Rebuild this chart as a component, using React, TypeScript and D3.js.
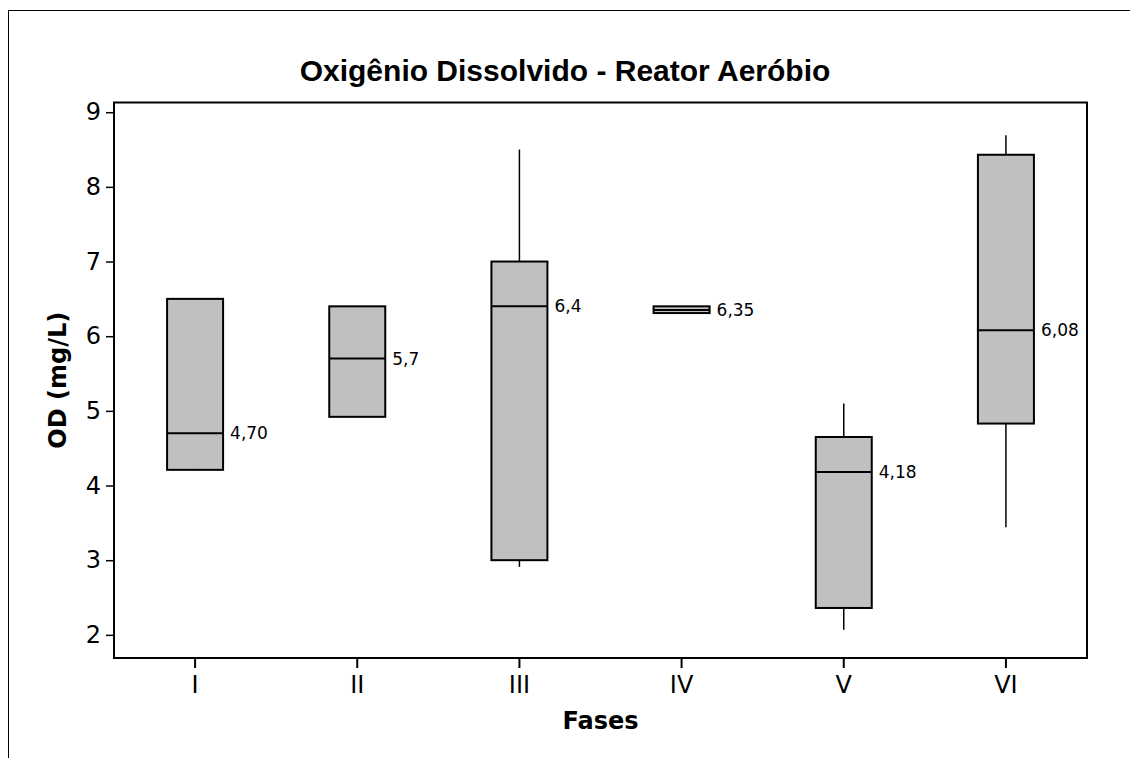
import {useEffect, useRef} from "react"

import * as d3 from "d3"

// fases e valores (mg/L)
const phases = ["I", "II", "III", "IV", "V", "VI"]
const minVals = [4.2, 4.92, 2.91, 6.31, 2.07, 3.44]
const q1Vals = [4.21, 4.92, 3.0, 6.31, 2.36, 4.83]
const medians = [4.7, 5.7, 6.4, 6.35, 4.18, 6.08]
const q3Vals = [6.5, 6.4, 7.0, 6.4, 4.65, 8.43]
const maxVals = [6.5, 6.4, 8.5, 6.4, 5.1, 8.69]
const medianLabels = ["4,70", "5,7", "6,4", "6,35", "4,18", "6,08"]
const yTicks = [2, 3, 4, 5, 6, 7, 8, 9]

const W = 1130
const H = 758
const plot = {left: 114, top: 102.5, right: 1087, bottom: 658}
const labelFont = "DejaVu Sans, Verdana, sans-serif"
const titleFont = "Liberation Sans, Arial, sans-serif"

const App = (): JSX.Element => {
  const ref = useRef<SVGSVGElement>(null)

  useEffect(() => {
    if (!ref.current) return
    const svg = d3.select(ref.current)
    svg.selectAll("*").remove()

    // moldura externa (cortada à direita e embaixo)
    svg
      .append("rect")
      .attr("x", 8.5)
      .attr("y", 10.5)
      .attr("width", 1300)
      .attr("height", 900)
      .attr("fill", "white")
      .attr("stroke", "black")
      .attr("stroke-width", 1)

    const x = d3.scaleBand().domain(phases).range([plot.left, plot.right])
    const y = d3.scaleLinear().domain([1.69, 9.13]).range([plot.bottom, plot.top])
    const boxW = 56

    svg
      .append("text")
      .attr("x", 565)
      .attr("y", 81)
      .attr("text-anchor", "middle")
      .attr("font-family", titleFont)
      .attr("font-weight", "bold")
      .attr("font-size", 30)
      .text("Oxigênio Dissolvido - Reator Aeróbio")

    const yAxis = svg
      .append("g")
      .attr("transform", `translate(${plot.left},0)`)
      .call(d3.axisLeft(y).tickValues(yTicks).tickSize(8).tickPadding(5))
    yAxis.select(".domain").remove()
    yAxis.selectAll("line").attr("stroke-width", 1.5)
    yAxis
      .selectAll("text")
      .attr("font-family", labelFont)
      .attr("font-size", 24)
      .attr("fill", "black")

    const xAxis = svg
      .append("g")
      .attr("transform", `translate(0,${plot.bottom})`)
      .call(d3.axisBottom(x).tickSize(10).tickPadding(8))
    xAxis.select(".domain").remove()
    xAxis.selectAll("line").attr("stroke-width", 2)
    xAxis
      .selectAll("text")
      .attr("font-family", labelFont)
      .attr("font-size", 24)
      .attr("fill", "black")

    svg
      .append("rect")
      .attr("x", plot.left)
      .attr("y", plot.top)
      .attr("width", plot.right - plot.left)
      .attr("height", plot.bottom - plot.top)
      .attr("fill", "none")
      .attr("stroke", "black")
      .attr("stroke-width", 2)

    const boxes = svg
      .append("g")
      .selectAll("g")
      .data(phases)
      .join("g")
      .attr("transform", (d) => `translate(${(x(d) ?? 0) + x.bandwidth() / 2},0)`)

    boxes
      .append("line")
      .attr("stroke", "black")
      .attr("stroke-width", 1.5)
      .attr("y1", (_, i) => y(maxVals[i]))
      .attr("y2", (_, i) => y(q3Vals[i]))
    boxes
      .append("line")
      .attr("stroke", "black")
      .attr("stroke-width", 1.5)
      .attr("y1", (_, i) => y(q1Vals[i]))
      .attr("y2", (_, i) => y(minVals[i]))

    boxes
      .append("rect")
      .attr("x", -boxW / 2)
      .attr("width", boxW)
      .attr("y", (_, i) => y(q3Vals[i]))
      .attr("height", (_, i) => y(q1Vals[i]) - y(q3Vals[i]))
      .attr("fill", "#c0c0c0")
      .attr("stroke", "black")
      .attr("stroke-width", 2)

    boxes
      .append("line")
      .attr("stroke", "black")
      .attr("stroke-width", 2)
      .attr("x1", -boxW / 2)
      .attr("x2", boxW / 2)
      .attr("y1", (_, i) => y(medians[i]))
      .attr("y2", (_, i) => y(medians[i]))

    boxes
      .append("text")
      .attr("x", boxW / 2 + 7)
      .attr("y", (_, i) => y(medians[i]))
      .attr("dy", "0.35em")
      .attr("font-family", labelFont)
      .attr("font-size", 17)
      .text((_, i) => medianLabels[i])

    svg
      .append("text")
      .attr("x", (plot.left + plot.right) / 2)
      .attr("y", 729)
      .attr("text-anchor", "middle")
      .attr("font-family", labelFont)
      .attr("font-weight", "bold")
      .attr("font-size", 24)
      .text("Fases")

    svg
      .append("text")
      .attr("transform", `translate(66,${(plot.top + plot.bottom) / 2}) rotate(-90)`)
      .attr("text-anchor", "middle")
      .attr("font-family", labelFont)
      .attr("font-weight", "bold")
      .attr("font-size", 24)
      .text("OD (mg/L)")
  }, [])

  return (
    <svg
      ref={ref}
      width={W}
      height={H}
      style={{position: "absolute", left: 0, top: 0, background: "white"}}
    />
  )
}

export default App
